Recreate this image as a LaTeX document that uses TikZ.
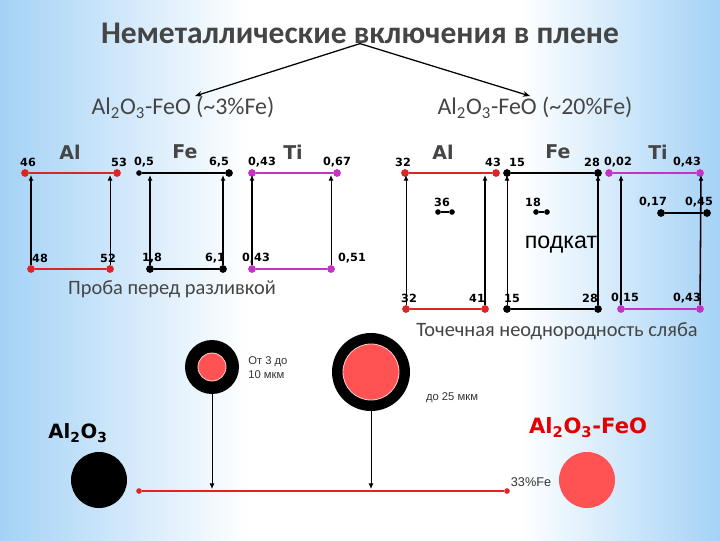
\documentclass[tikz,border=0pt]{standalone}
\usepackage{fontspec}
\setmainfont{Carlito}
\newfontfamily\numfont{DejaVu Sans}
\newfontfamily\arialfont{Liberation Sans}
\usetikzlibrary{positioning, arrows.meta}

\definecolor{lineRed}{HTML}{E02424}
\definecolor{ballRed}{HTML}{FF5252}
\definecolor{tiPink}{HTML}{C830C8}
\definecolor{headGray}{HTML}{454545}
\definecolor{skyBlue}{HTML}{A4D2F6}

\begin{document}
\begin{tikzpicture}[x=0.025cm, y=-0.025cm,
    title/.style={font=\bfseries\fontsize{22.4}{26}\selectfont, text=headGray, inner sep=0pt},
    sub/.style={font=\fontsize{17}{20}\selectfont, text=headGray, inner sep=0pt},
    caption/.style={font=\fontsize{14.5}{17}\selectfont, text=headGray, inner sep=0pt},
    elem/.style={font=\numfont\bfseries\fontsize{13.5}{15}\selectfont, text=headGray, inner sep=0pt},
    num/.style={font=\numfont\bfseries\fontsize{8}{9}\selectfont, inner sep=0pt},
    small/.style={font=\arialfont\fontsize{8}{10}\selectfont, text=black!80, inner sep=0pt},
    bar/.style={line width=2pt},
    dot/.style={circle, fill, inner sep=0pt, minimum size=5.5pt},
    tinydot/.style={circle, fill, inner sep=0pt, minimum size=4pt},
    up/.style={-{Latex[length=4pt,width=3.5pt]}, line width=1.1pt},
    upthin/.style={-{Latex[length=4pt,width=3.5pt]}, line width=0.7pt},
    down/.style={-{Latex[length=4pt,width=3.5pt]}, line width=0.6pt}
]
% background
\useasboundingbox (0,0) rectangle (720,540);
\fill[white] (0,0) rectangle (720,540);
\shade[left color=skyBlue, right color=white] (0,0) rectangle (250,540);
\shade[left color=white, right color=skyBlue] (520,0) rectangle (720,540);

% headings
\node[title] (title) at (360,33) {Неметаллические включения в плене};
\node[sub] (subL) at (183,108) {Al\textsubscript{2}O\textsubscript{3}-FeO (\textasciitilde3\%Fe)};
\node[sub] (subR) at (535,108) {Al\textsubscript{2}O\textsubscript{3}-FeO (\textasciitilde20\%Fe)};
\coordinate (tipL) at (195,96);
\coordinate (tipR) at (530,96);
\draw[-{Stealth[length=5pt,width=4pt]}, line width=0.9pt] (title.south) -- (tipL);
\draw[-{Stealth[length=5pt,width=4pt]}, line width=0.9pt] (title.south) -- (tipR);

% Проба перед разливкой
\node[elem] (pAl) at (70,152) {Al};
\node[elem] (pFe) at (185,152) {Fe};
\node[elem] (pTi) at (293,152) {Ti};

\node[dot, lineRed] (pAlT1) at (25,173) {};
\node[dot, lineRed] (pAlT2) at (117,173) {};
\node[dot, lineRed] (pAlB1) at (31,269) {};
\node[dot, lineRed] (pAlB2) at (110,269) {};
\coordinate (pAlU1) at (31,175);
\coordinate (pAlU2) at (110,175);
\draw[bar, lineRed] (pAlT1) -- (pAlT2);
\draw[bar, lineRed] (pAlB1) -- (pAlB2);
\draw[up] (pAlB1) -- (pAlU1);
\draw[upthin] (pAlB2) -- (pAlU2);
\node[num] (pAl46) at (28,162) {46};
\node[num] (pAl53) at (119,162) {53};
\node[num] (pAl48) at (40,258) {48};
\node[num] (pAl52) at (108,258) {52};

\node[tinydot] (pFeT1) at (139,173) {};
\node[dot] (pFeT2) at (229,173) {};
\node[dot] (pFeB1) at (150,269) {};
\node[dot] (pFeB2) at (223,269) {};
\coordinate (pFeU1) at (150,175);
\coordinate (pFeU2) at (223,175);
\draw[bar] (pFeT1) -- (pFeT2);
\draw[bar] (pFeB1) -- (pFeB2);
\draw[up] (pFeB1) -- (pFeU1);
\draw[up] (pFeB2) -- (pFeU2);
\node[num] (pFe05) at (144,162) {0,5};
\node[num] (pFe65) at (219,162) {6,5};
\node[num] (pFe18) at (152,258) {1,8};
\node[num] (pFe61) at (215,258) {6,1};

\node[dot, tiPink] (pTiT1) at (252,173) {};
\node[dot, tiPink] (pTiT2) at (337,173) {};
\node[dot, tiPink] (pTiB1) at (252,269) {};
\node[dot, tiPink] (pTiB2) at (331,269) {};
\coordinate (pTiU1) at (252,175);
\coordinate (pTiU2) at (331,175);
\draw[bar, tiPink] (pTiT1) -- (pTiT2);
\draw[bar, tiPink] (pTiB1) -- (pTiB2);
\draw[up] (pTiB1) -- (pTiU1);
\draw[upthin] (pTiB2) -- (pTiU2);
\node[num] (pTi043) at (262,162) {0,43};
\node[num] (pTi067) at (337,162) {0,67};
\node[num] (pTi043b) at (256,258) {0,43};
\node[num] (pTi051) at (352,258) {0,51};

\node[caption] (proba) at (172,289) {Проба перед разливкой};

% Точечная неоднородность сляба
\node[elem] (sAl) at (443,152) {Al};
\node[elem] (sFe) at (558,152) {Fe};
\node[elem] (sTi) at (658,152) {Ti};

\node[dot, lineRed] (sAlT1) at (405,173) {};
\node[dot, lineRed] (sAlT2) at (496,173) {};
\node[dot, lineRed] (sAlB1) at (406,309) {};
\node[dot, lineRed] (sAlB2) at (485,309) {};
\coordinate (sAlU1) at (406,175);
\coordinate (sAlU2) at (485,175);
\draw[bar, lineRed] (sAlT1) -- (sAlT2);
\draw[bar, lineRed] (sAlB1) -- (sAlB2);
\draw[upthin] (sAlB1) -- (sAlU1);
\draw[up] (sAlB2) -- (sAlU2);
\node[tinydot] (sAlM1) at (438,212) {};
\node[tinydot] (sAlM2) at (452,212) {};
\draw[line width=1pt] (sAlM1) -- (sAlM2);
\node[num] (sAl32) at (403,162) {32};
\node[num] (sAl43) at (493,162) {43};
\node[num] (sAl36) at (442,202) {36};
\node[num] (sAl32b) at (409,298) {32};
\node[num] (sAl41) at (477,298) {41};

\node[dot] (sFeT1) at (507,173) {};
\node[dot] (sFeT2) at (598,173) {};
\node[dot] (sFeB1) at (507,309) {};
\node[dot] (sFeB2) at (598,309) {};
\coordinate (sFeU1) at (507,175);
\coordinate (sFeU2) at (598,175);
\draw[bar] (sFeT1) -- (sFeT2);
\draw[bar] (sFeB1) -- (sFeB2);
\draw[upthin] (sFeB1) -- (sFeU1);
\draw[up] (sFeB2) -- (sFeU2);
\node[tinydot] (sFeM1) at (536,212) {};
\node[tinydot] (sFeM2) at (547,212) {};
\draw[line width=1pt] (sFeM1) -- (sFeM2);
\node[num] (sFe15) at (517,162) {15};
\node[num] (sFe28) at (592,162) {28};
\node[num] (sFe18) at (533,202) {18};
\node[num] (sFe15b) at (512,298) {15};
\node[num] (sFe28b) at (590,298) {28};

\node[dot, tiPink] (sTiT1) at (609,173) {};
\node[dot, tiPink] (sTiT2) at (700,173) {};
\node[dot, tiPink] (sTiB1) at (621,309) {};
\node[dot, tiPink] (sTiB2) at (700,309) {};
\coordinate (sTiU1) at (621,175);
\coordinate (sTiU2) at (701,175);
\draw[bar, tiPink] (sTiT1) -- (sTiT2);
\draw[bar, tiPink] (sTiB1) -- (sTiB2);
\draw[up] (sTiB1) -- (sTiU1);
\draw[up] (sTiB2) -- (sTiU2);
\node[dot] (sTiM1) at (661,213) {};
\node[dot] (sTiM2) at (707,213) {};
\draw[line width=1pt] (sTiM1) -- (sTiM2);
\node[num] (sTi002) at (618,162) {0,02};
\node[num] (sTi043) at (687,162) {0,43};
\node[num] (sTi017) at (653,202) {0,17};
\node[num] (sTi045) at (699,202) {0,45};
\node[num] (sTi015) at (625,298) {0,15};
\node[num] (sTi043b) at (687,298) {0,43};

\node[font=\arialfont\fontsize{16.5}{18}\selectfont, inner sep=0pt] (podkat) at (561,245) {подкат};
\node[caption] (tochka) at (557,331) {Точечная неоднородность сляба};

% включения
\node[circle, fill=black, minimum size=1.35cm, inner sep=0pt] (ringS) at (212,367) {};
\node[circle, fill=ballRed, draw=white!70!ballRed, line width=0.6pt, minimum size=0.7cm, inner sep=0pt] (coreS) at (212,367) {};
\node[circle, fill=black, minimum size=1.95cm, inner sep=0pt] (ringL) at (371,372) {};
\node[circle, fill=ballRed, draw=white!70!ballRed, line width=0.6pt, minimum size=1.4cm, inner sep=0pt] (coreL) at (371,372) {};
\node[small, anchor=west, align=left] (sizeS) at (248,368) {От 3 до\\10 мкм};
\node[small] (sizeL) at (452,398) {до 25 мкм};

\node[circle, fill=black, minimum size=1.4cm, inner sep=0pt] (ballAl) at (99,480) {};
\node[font=\numfont\bfseries\fontsize{14}{16}\selectfont, inner sep=0pt] (nameAl) at (78,433) {Al\textsubscript{2}O\textsubscript{3}};
\node[circle, fill=ballRed, minimum size=1.4cm, inner sep=0pt] (ballFe) at (587,480) {};
\node[font=\numfont\bfseries\fontsize{15}{17}\selectfont, text=red!90!black, inner sep=0pt] (nameFe) at (588,428) {Al\textsubscript{2}O\textsubscript{3}-FeO};
\node[small, font=\arialfont\fontsize{9}{11}\selectfont] (fe33) at (531,482) {33\%Fe};

\node[tinydot, lineRed] (scaleL) at (139,491) {};
\node[tinydot, lineRed] (scaleR) at (507,491) {};
\draw[line width=1.5pt, lineRed] (scaleL) -- (scaleR);
\coordinate (hitS) at (212,489);
\coordinate (hitL) at (371,489);
\draw[down] (ringS) -- (hitS);
\draw[down] (ringL) -- (hitL);
\end{tikzpicture}
\end{document}
